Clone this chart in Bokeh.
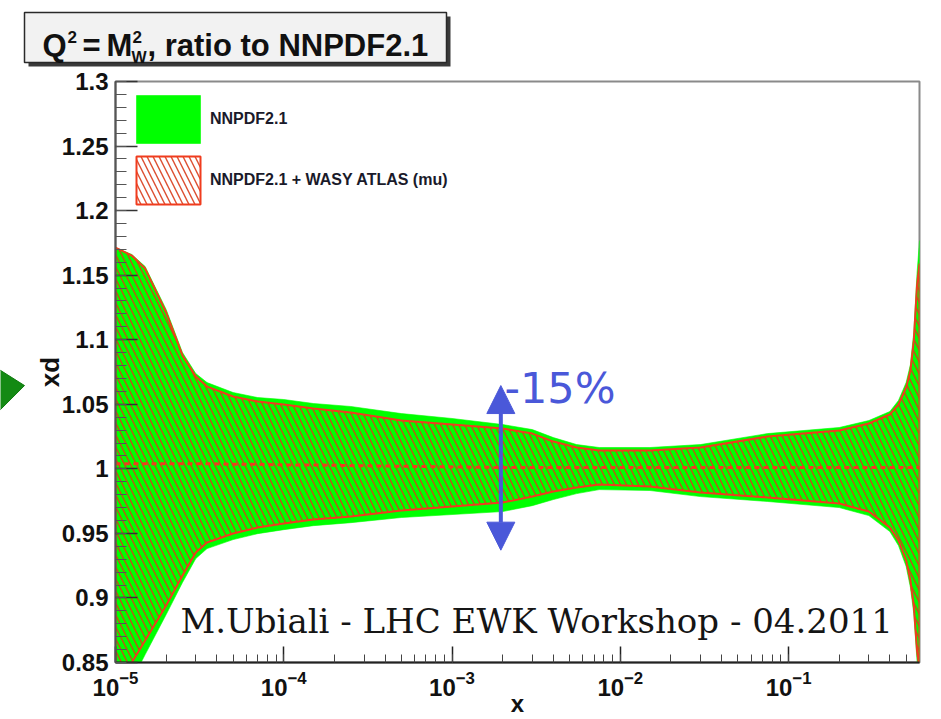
import math

from bokeh.plotting import figure
from bokeh.layouts import column, row
from bokeh.models import (Range1d, LogTicker, SingleIntervalTicker, NumeralTickFormatter,
                          Label, Arrow, NormalHead, Legend, LegendItem)
from bokeh.embed import file_html
from bokeh.resources import INLINE

# ---- data: ratio of xd to NNPDF2.1 at Q^2 = M_W^2 ----
x = [1e-5, 1.25e-5, 1.5e-5, 2e-5, 2.5e-5, 3e-5, 3.5e-5, 5e-5, 7e-5, 1e-4,
     1.5e-4, 2.5e-4, 5e-4, 1e-3, 2e-3, 3e-3, 4e-3, 5.5e-3, 7.5e-3, 1.5e-2,
     3e-2, 7.5e-2, 0.2, 0.3, 0.4, 0.45, 0.5, 0.53, 0.555, 0.58, 0.6]

# NNPDF2.1 uncertainty band (green)
ref_hi = [1.1714, 1.1660, 1.1567, 1.1234, 1.0901, 1.0738, 1.0668, 1.0591, 1.0552, 1.0537,
          1.0506, 1.0483, 1.0428, 1.0390, 1.0343, 1.0304, 1.0242, 1.0188, 1.0165, 1.0165,
          1.0188, 1.0273, 1.0320, 1.0374, 1.0444, 1.0529, 1.0669, 1.0808, 1.1056, 1.1513, 1.1768]
ref_lo = [0.7995, 0.8360, 0.8561, 0.8871, 0.9119, 0.9305, 0.9382, 0.9452, 0.9498, 0.9529,
          0.9560, 0.9583, 0.9623, 0.9646, 0.9669, 0.9715, 0.9762, 0.9808, 0.9839, 0.9832,
          0.9785, 0.9747, 0.9700, 0.9638, 0.9514, 0.9406, 0.9243, 0.9081, 0.8879, 0.8515, 0.8372]

# NNPDF2.1 + W asymmetry ATLAS (mu): band and central value (red)
new_hi = [1.1714, 1.1652, 1.1551, 1.1211, 1.0878, 1.0715, 1.0637, 1.0560, 1.0521, 1.0498,
          1.0467, 1.0436, 1.0374, 1.0343, 1.0312, 1.0273, 1.0211, 1.0165, 1.0142, 1.0142,
          1.0165, 1.0250, 1.0297, 1.0351, 1.0421, 1.0498, 1.0630, 1.0761, 1.0994, 1.1420, 1.1590]
new_lo = [0.8150, 0.8500, 0.8670, 0.8941, 0.9173, 0.9352, 0.9429, 0.9499, 0.9545, 0.9576,
          0.9607, 0.9630, 0.9677, 0.9708, 0.9739, 0.9785, 0.9824, 0.9855, 0.9878, 0.9863,
          0.9816, 0.9778, 0.9731, 0.9669, 0.9545, 0.9445, 0.9290, 0.9135, 0.8941, 0.8593, 0.8450]
new_cv = [1.0040, 1.0040, 1.0040, 1.0040, 1.0040, 1.0040, 1.0040, 1.0035, 1.0035, 1.0030,
          1.0030, 1.0025, 1.0020, 1.0015, 1.0010, 1.0010, 1.0010, 1.0010, 1.0010, 1.0010,
          1.0010, 1.0010, 1.0010, 1.0010, 1.0010, 1.0010, 1.0010, 1.0010, 1.0010, 1.0010, 1.0010]

labels = ["NNPDF2.1", "NNPDF2.1 + WASY ATLAS (mu)"]

GREEN = "#00ff00"
RED = "#f03c1e"
BLUE = "#4a58d9"
SANS = "Liberation Sans"


def bare(fig):
    fig.xgrid.visible = False
    fig.ygrid.visible = False
    fig.outline_line_color = None
    fig.background_fill_color = "white"
    fig.border_fill_color = "white"


# ---- header strip with the boxed title (pixel coordinates, y downwards) ----
top = figure(width=941, height=67, x_range=Range1d(0, 941), y_range=Range1d(67, 0),
             x_axis_location=None, y_axis_location=None,
             output_backend="svg", toolbar_location=None, min_border=0)
bare(top)
top.quad(left=[28], right=[450], top=[16], bottom=[66], fill_color="#3a3a3a", line_alpha=0)
top.quad(left=[24], right=[446], top=[12], bottom=[62], fill_color="#f2f2f2",
         line_color="#2a2a2a", line_width=1.5)


def title_part(txt, xp, yp, size):
    top.add_layout(Label(x=xp, y=yp, text=txt, text_font=SANS, text_font_style="bold",
                         text_font_size=size, text_align="left", text_baseline="alphabetic",
                         text_color="#111111"))


title_part("Q", 42, 45, "31px")
title_part("2", 67, 36, "17px")
title_part("=", 82, 45, "31px")
title_part("M", 106, 45, "31px")
title_part("2", 132, 36, "17px")
title_part("W", 131, 57, "16px")
title_part(", ratio to NNPDF2.1", 147, 45, "31px")

# ---- main ratio plot ----
p = figure(width=911, height=652, x_axis_type="log",
           x_range=Range1d(1e-5, 0.6), y_range=Range1d(0.85, 1.3),
           output_backend="svg", toolbar_location=None,
           min_border_left=85, min_border_right=22, min_border_top=14, min_border_bottom=57)
p.background_fill_color = "white"
p.border_fill_color = "white"
p.xgrid.visible = False
p.ygrid.visible = False
p.outline_line_color = "#8a8a8a"
p.outline_line_width = 2

r_ref = p.patch(x + x[::-1], ref_hi + ref_lo[::-1], fill_color=GREEN, line_color=GREEN,
                line_width=1, line_alpha=0.6)
r_new = p.patch(x + x[::-1], new_hi + new_lo[::-1], fill_alpha=0,
                hatch_pattern="left_diagonal_line", hatch_color="#d83a18", hatch_weight=1.4,
                hatch_scale=12, hatch_alpha=0.9, line_color=RED, line_width=2)
p.line(x, new_cv, line_color=RED, line_width=3, line_dash="5 4")

xa = p.xaxis[0]
xa.ticker = LogTicker(num_minor_ticks=10)
xa.major_tick_in, xa.major_tick_out = 16, 0
xa.minor_tick_in, xa.minor_tick_out = 8, 0
xa.axis_line_color = "#222222"
xa.axis_line_width = 2
xa.major_tick_line_color = "#222222"
xa.minor_tick_line_color = "#444444"
xa.major_tick_line_width = 1.5
xa.major_label_standoff = 8
xa.major_label_text_font = SANS
xa.major_label_text_font_style = "bold"
xa.major_label_text_font_size = "24px"
xa.major_label_text_color = "#111111"
xa.axis_label = "x"
xa.axis_label_text_font = SANS
xa.axis_label_text_font_style = "bold"
xa.axis_label_text_font_size = "24px"
xa.axis_label_text_color = "#111111"
xa.axis_label_standoff = -9

ya = p.yaxis[0]
ya.ticker = SingleIntervalTicker(interval=0.05, num_minor_ticks=5)
ya.formatter = NumeralTickFormatter(format="0.[00]")
ya.major_tick_in, ya.major_tick_out = 22, 0
ya.minor_tick_in, ya.minor_tick_out = 11, 0
ya.axis_line_color = "#555555"
ya.axis_line_width = 2
ya.major_tick_line_color = "#333333"
ya.minor_tick_line_color = "#555555"
ya.major_tick_line_width = 1.5
ya.major_label_standoff = 7
ya.major_label_text_font = SANS
ya.major_label_text_font_style = "bold"
ya.major_label_text_font_size = "24px"
ya.major_label_text_color = "#111111"
ya.axis_label = "xd"
ya.axis_label_text_font = SANS
ya.axis_label_text_font_style = "bold"
ya.axis_label_text_font_size = "26px"
ya.axis_label_text_color = "#111111"
ya.axis_label_standoff = -6

legend = Legend(items=[LegendItem(label=labels[0], renderers=[r_ref]),
                       LegendItem(label=labels[1], renderers=[r_new])],
                location=(13, 452), glyph_width=80, glyph_height=60, spacing=1,
                padding=0, margin=0, label_standoff=2,
                background_fill_alpha=0, border_line_alpha=0,
                label_text_font=SANS, label_text_font_style="bold",
                label_text_font_size="16px", label_text_color="#1a1a2a")
p.add_layout(legend)

p.add_layout(Label(x=65, y=42, x_units="screen", y_units="screen",
                   text="M.Ubiali - LHC EWK Workshop - 04.2011",
                   text_font="DejaVu Serif", text_font_size="34px",
                   text_baseline="alphabetic", text_color="#151515"))
p.add_layout(Label(x=389, y=275, x_units="screen", y_units="screen", text="-15%",
                   text_font="DejaVu Sans", text_font_size="43px",
                   text_baseline="alphabetic", text_color=BLUE))
p.add_layout(Arrow(x_start=1.95e-3, y_start=0.937, x_end=1.95e-3, y_end=1.0645,
                   line_color=BLUE, line_width=4,
                   start=NormalHead(size=28, fill_color=BLUE, line_color=BLUE),
                   end=NormalHead(size=28, fill_color=BLUE, line_color=BLUE)))

# ---- narrow left strip with the pointer mark, sharing the ratio scale ----
side = figure(width=30, height=652, x_range=Range1d(0, 30), y_range=p.y_range,
              x_axis_location=None, y_axis_location=None,
              output_backend="svg", toolbar_location=None, min_border=0)
bare(side)
side.patch([-3, 24, -3], [1.0777, 1.0645, 1.0436], fill_color="#138a13",
           line_color="#0f7a0f", line_width=1)

layout = column(top, row(side, p))
open("out.html", "w").write(file_html(layout, INLINE))
